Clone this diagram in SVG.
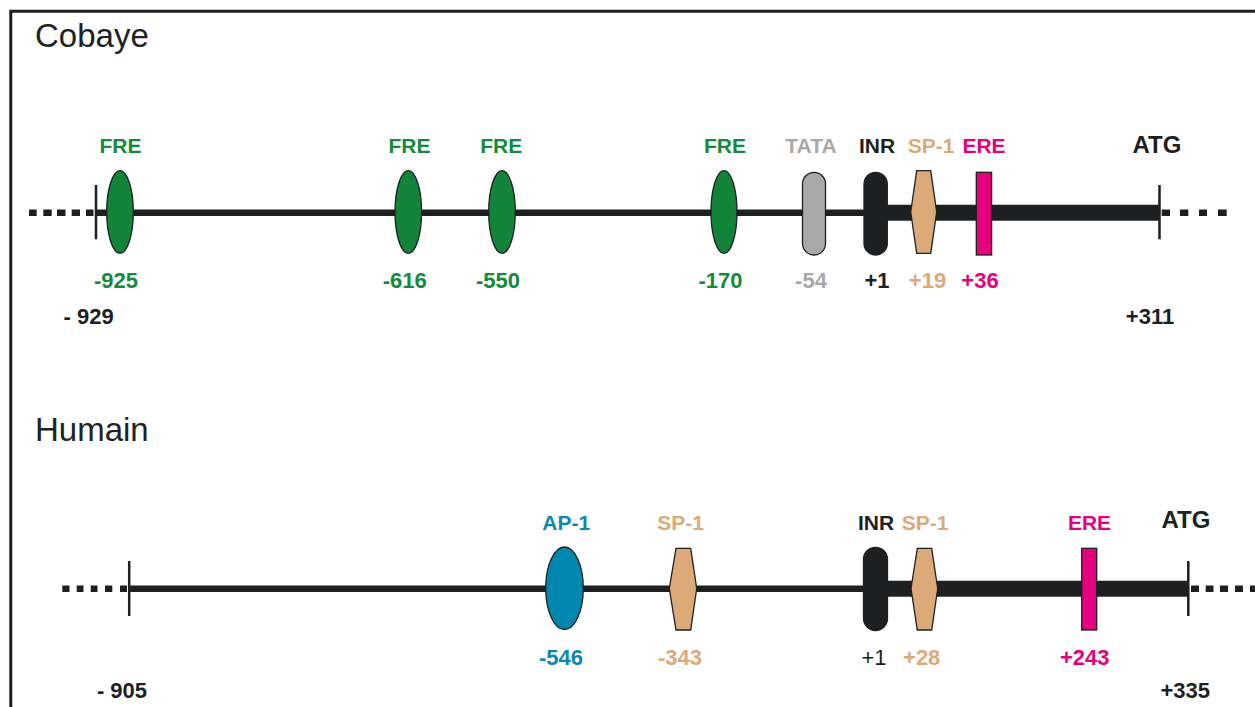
<svg xmlns="http://www.w3.org/2000/svg" width="1255" height="707" viewBox="0 0 1255 707">
<style>
  text { font-family: "Liberation Sans", Arial, sans-serif; }
  .title { font-size: 33px; fill: #222; }
  .lab { font-size: 21px; font-weight: bold; text-anchor: middle; }
  .num { font-size: 22px; font-weight: bold; text-anchor: middle; }
  .atg { font-size: 24px; font-weight: bold; text-anchor: middle; fill: #1e1f21; }
  .shape { stroke: #1e1f21; stroke-width: 1.3; }
  .green { fill: #11843a; }
  .gray { fill: #a8a8a8; }
  .black { fill: #1e1f21; }
  .tan { fill: #dbaa78; }
  .pink { fill: #e5007e; }
  .blue { fill: #0087ad; }
  .thin { stroke: #1e1f21; stroke-width: 6.5; fill: none; }
  .thick { stroke: #1e1f21; stroke-width: 16; fill: none; }
  .tick { stroke: #1e1f21; stroke-width: 2.5; fill: none; }
</style>
<rect x="0" y="0" width="1255" height="707" fill="#ffffff"/>
<path d="M10.8,707 V11.2 H1255" fill="none" stroke="#1e1f21" stroke-width="3"/>

<text class="title" x="35" y="47">Cobaye</text>
<text class="title" x="35" y="441">Humain</text>

<g id="connectors">
  <!-- Cobaye -->
  <path class="thin" d="M29,212.7 H36.7 M43.3,212.7 H51.7 M57,212.7 H65.5 M71.7,212.7 H80 M86,212.7 H93.5"/>
  <path class="thin" d="M96,212.7 H880"/>
  <path class="thick" d="M875,212.7 H1159"/>
  <path class="thin" d="M1161.7,212.7 H1170 M1180,212.7 H1188.3 M1199,212.7 H1207 M1218,212.7 H1226.7"/>
  <path class="tick" d="M96,185 V239.3 M1159.5,185 V239.3"/>
  <!-- Humain -->
  <path class="thin" d="M62.3,588.7 H69.5 M76.7,588.7 H83.5 M90.7,588.7 H97.5 M105,588.7 H112.3 M120,588.7 H127"/>
  <path class="thin" d="M129,588.7 H880"/>
  <path class="thick" d="M875,588.7 H1188"/>
  <path class="thin" d="M1191,588.7 H1199 M1205.7,588.7 H1213.5 M1220,588.7 H1228 M1235,588.7 H1243 M1250,588.7 H1255"/>
  <path class="tick" d="M129.2,561 V616 M1188.3,561 V616"/>
</g>

<!-- Cobaye nodes -->
<g id="c-fre-925">
  <ellipse class="shape green" cx="120" cy="212" rx="13.3" ry="41.3"/>
  <text class="lab" x="120.5" y="153" fill="#148a3c">FRE</text>
  <text class="num" x="116" y="288" fill="#148a3c">-925</text>
</g>
<g id="c-fre-616">
  <ellipse class="shape green" cx="408.3" cy="212" rx="13.3" ry="41.3"/>
  <text class="lab" x="409.5" y="153" fill="#148a3c">FRE</text>
  <text class="num" x="404.7" y="288" fill="#148a3c">-616</text>
</g>
<g id="c-fre-550">
  <ellipse class="shape green" cx="502" cy="212" rx="13.3" ry="41.3"/>
  <text class="lab" x="501.3" y="153" fill="#148a3c">FRE</text>
  <text class="num" x="498" y="288" fill="#148a3c">-550</text>
</g>
<g id="c-fre-170">
  <ellipse class="shape green" cx="724" cy="212" rx="13" ry="41.3"/>
  <text class="lab" x="725" y="153" fill="#148a3c">FRE</text>
  <text class="num" x="720.5" y="288" fill="#148a3c">-170</text>
</g>
<g id="c-tata">
  <rect class="shape gray" x="802.5" y="172.3" width="23" height="82.7" rx="11.5" ry="11.5"/>
  <text class="lab" x="811" y="153" fill="#a8a8a8">TATA</text>
  <text class="num" x="811" y="288" fill="#a8a8a8">-54</text>
</g>
<g id="c-inr">
  <rect class="shape black" x="864" y="172.3" width="23.3" height="82.7" rx="11.6" ry="11.6"/>
  <text class="lab" x="877" y="153" fill="#1e1f21">INR</text>
  <text class="num" x="877" y="288" fill="#1e1f21">+1</text>
</g>
<g id="c-sp1">
  <polygon class="shape tan" points="916.7,170.7 930.7,170.7 936.7,212 930.7,253.3 916.7,253.3 910.7,212"/>
  <text class="lab" x="931" y="153" fill="#dbaa78">SP-1</text>
  <text class="num" x="927.5" y="288" fill="#dbaa78">+19</text>
</g>
<g id="c-ere">
  <rect class="shape pink" x="976.3" y="172.3" width="15.3" height="82.7"/>
  <text class="lab" x="984" y="153" fill="#e5007e">ERE</text>
  <text class="num" x="980" y="288" fill="#e5007e">+36</text>
</g>
<g id="c-atg">
  <text class="atg" x="1157" y="153">ATG</text>
</g>
<g id="c-ends">
  <text class="num" x="88.7" y="324" fill="#1e1f21">- 929</text>
  <text class="num" x="1150" y="324" fill="#1e1f21">+311</text>
</g>

<!-- Humain nodes -->
<g id="h-ap1">
  <ellipse class="shape blue" cx="564.5" cy="588.3" rx="18.8" ry="41.3"/>
  <text class="lab" x="566.2" y="529.5" fill="#0e87b0">AP-1</text>
  <text class="num" x="561" y="665" fill="#0e87b0">-546</text>
</g>
<g id="h-sp1-343">
  <polygon class="shape tan" points="676,548.3 690.7,548.3 696.7,588.5 690.7,630 676,630 669.3,588.5"/>
  <text class="lab" x="680.7" y="529.5" fill="#dbaa78">SP-1</text>
  <text class="num" x="680" y="665" fill="#dbaa78">-343</text>
</g>
<g id="h-inr">
  <rect class="shape black" x="863.5" y="547.3" width="24" height="83.3" rx="12" ry="12"/>
  <text class="lab" x="876" y="529.5" fill="#1e1f21">INR</text>
  <text x="874" y="665" font-size="22" text-anchor="middle" fill="#1e1f21">+1</text>
</g>
<g id="h-sp1-28">
  <polygon class="shape tan" points="917.3,548.3 931.7,548.3 937.7,588.5 931.7,630 917.3,630 911,588.5"/>
  <text class="lab" x="925" y="529.5" fill="#dbaa78">SP-1</text>
  <text class="num" x="921.7" y="665" fill="#dbaa78">+28</text>
</g>
<g id="h-ere">
  <rect class="shape pink" x="1081.7" y="548.3" width="15" height="81.7"/>
  <text class="lab" x="1089.5" y="529.5" fill="#e5007e">ERE</text>
  <text class="num" x="1084.7" y="665" fill="#e5007e">+243</text>
</g>
<g id="h-atg">
  <text class="atg" x="1186" y="528.3">ATG</text>
</g>
<g id="h-ends">
  <text class="num" x="122" y="698.3" fill="#1e1f21">- 905</text>
  <text class="num" x="1185.3" y="698.3" fill="#1e1f21">+335</text>
</g>
</svg>
